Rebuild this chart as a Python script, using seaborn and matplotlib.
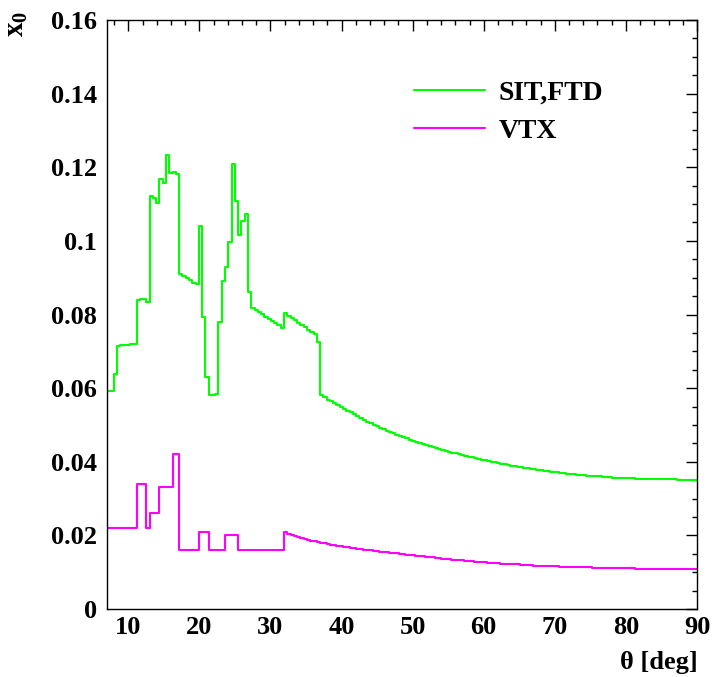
import numpy as np
import pandas as pd
import matplotlib
matplotlib.use("Agg")
import matplotlib.pyplot as plt
from matplotlib.lines import Line2D
from matplotlib.ticker import MultipleLocator, FixedLocator, FixedFormatter
import seaborn as sns

# ---------------- data ----------------
THETA_MIN = 7.0
THETA_MAX = 90.0
N_BINS = 180

series_names = ["SIT,FTD", "VTX"]
series_colors = ["#00ff00", "#ff00ff"]

sit_ftd = [
    0.0593, 0.0593, 0.0638, 0.0715, 0.0716, 0.0717, 0.0718, 0.0719, 0.0720, 0.0840,
    0.0841, 0.0842, 0.0833, 0.1122, 0.1116, 0.1104, 0.1167, 0.1156, 0.1232, 0.1184,
    0.1187, 0.1181, 0.0910, 0.0905, 0.0899, 0.0893, 0.0885, 0.0882, 0.1040, 0.0792,
    0.0631, 0.0581, 0.0581, 0.0584, 0.0779, 0.0891, 0.0928, 0.0998, 0.1208, 0.1108,
    0.1016, 0.1055, 0.1073, 0.0860, 0.0819, 0.0812, 0.0806, 0.0800, 0.0794, 0.0789,
    0.0783, 0.0778, 0.0771, 0.0762, 0.0803, 0.0797, 0.0791, 0.0784, 0.0778, 0.0771,
    0.0765, 0.0759, 0.0753, 0.0747, 0.0726, 0.0580, 0.0575, 0.0569, 0.0564, 0.0559,
    0.0554, 0.0549, 0.0544, 0.0539, 0.0534, 0.0529, 0.0524, 0.0519, 0.0514, 0.0509,
    0.0505, 0.0500, 0.0496, 0.0492, 0.0488, 0.0484, 0.0480, 0.0477, 0.0473, 0.0470,
    0.0467, 0.0464, 0.0460, 0.0457, 0.0454, 0.0451, 0.0448, 0.0445, 0.0442, 0.0439,
    0.0437, 0.0434, 0.0432, 0.0429, 0.0427, 0.0425, 0.0423, 0.0420, 0.0418, 0.0416,
    0.0414, 0.0412, 0.0410, 0.0408, 0.0406, 0.0404, 0.0402, 0.0400, 0.0398, 0.0396,
    0.0394, 0.0393, 0.0391, 0.0389, 0.0388, 0.0386, 0.0385, 0.0383, 0.0382, 0.0380,
    0.0379, 0.0378, 0.0377, 0.0375, 0.0374, 0.0373, 0.0372, 0.0371, 0.0370, 0.0369,
    0.0368, 0.0367, 0.0366, 0.0365, 0.0364, 0.0363, 0.0362, 0.0362, 0.0361, 0.0360,
    0.0360, 0.0359, 0.0358, 0.0358, 0.0357, 0.0357, 0.0356, 0.0356, 0.0355, 0.0355,
    0.0355, 0.0354, 0.0354, 0.0354, 0.0353, 0.0353, 0.0353, 0.0353, 0.0352, 0.0352,
    0.0352, 0.0352, 0.0352, 0.0352, 0.0351, 0.0351, 0.0351, 0.0351, 0.0351, 0.0351,
]

vtx = [
    0.0220, 0.0220, 0.0220, 0.0220, 0.0220, 0.0220, 0.0220, 0.0220, 0.0220, 0.0340,
    0.0340, 0.0340, 0.0220, 0.0262, 0.0262, 0.0262, 0.0331, 0.0331, 0.0331, 0.0331,
    0.0420, 0.0420, 0.0160, 0.0160, 0.0160, 0.0160, 0.0160, 0.0160, 0.0210, 0.0210,
    0.0210, 0.0160, 0.0160, 0.0160, 0.0160, 0.0160, 0.0200, 0.0200, 0.0200, 0.0200,
    0.0160, 0.0160, 0.0160, 0.0160, 0.0160, 0.0160, 0.0160, 0.0160, 0.0160, 0.0160,
    0.0160, 0.0160, 0.0160, 0.0160, 0.0208, 0.0205, 0.0202, 0.0199, 0.0196, 0.0193,
    0.0191, 0.0188, 0.0186, 0.0184, 0.0182, 0.0180, 0.0179, 0.0177, 0.0175, 0.0174,
    0.0172, 0.0171, 0.0169, 0.0168, 0.0166, 0.0165, 0.0164, 0.0163, 0.0161, 0.0160,
    0.0159, 0.0158, 0.0157, 0.0156, 0.0155, 0.0154, 0.0153, 0.0152, 0.0151, 0.0150,
    0.0149, 0.0148, 0.0147, 0.0146, 0.0145, 0.0144, 0.0143, 0.0142, 0.0141, 0.0140,
    0.0139, 0.0138, 0.0137, 0.0136, 0.0135, 0.0134, 0.0134, 0.0133, 0.0132, 0.0131,
    0.0130, 0.0130, 0.0129, 0.0128, 0.0127, 0.0127, 0.0126, 0.0125, 0.0125, 0.0124,
    0.0123, 0.0123, 0.0122, 0.0122, 0.0121, 0.0121, 0.0120, 0.0120, 0.0119, 0.0119,
    0.0118, 0.0118, 0.0118, 0.0117, 0.0117, 0.0116, 0.0116, 0.0116, 0.0115, 0.0115,
    0.0115, 0.0114, 0.0114, 0.0114, 0.0113, 0.0113, 0.0113, 0.0113, 0.0112, 0.0112,
    0.0112, 0.0112, 0.0111, 0.0111, 0.0111, 0.0111, 0.0111, 0.0111, 0.0111, 0.0111,
    0.0111, 0.0110, 0.0110, 0.0110, 0.0110, 0.0110, 0.0110, 0.0110, 0.0110, 0.0110,
    0.0110, 0.0110, 0.0110, 0.0110, 0.0110, 0.0110, 0.0110, 0.0110, 0.0110, 0.0110,
]

x_tick_values = [10, 20, 30, 40, 50, 60, 70, 80, 90]
x_tick_labels = ["10", "20", "30", "40", "50", "60", "70", "80", "90"]
y_tick_values = [0, 0.02, 0.04, 0.06, 0.08, 0.10, 0.12, 0.14, 0.16]
y_tick_labels = ["0", "0.02", "0.04", "0.06", "0.08", "0.1", "0.12", "0.14", "0.16"]
x_label = "θ [deg]"
y_label = r"$\mathbf{x_0}$"

# ---------------- build table ----------------
edges = np.linspace(THETA_MIN, THETA_MAX, N_BINS + 1)
centers = 0.5 * (edges[:-1] + edges[1:])
df = pd.concat([
    pd.DataFrame({"theta": centers, "x0": sit_ftd, "det": series_names[0]}),
    pd.DataFrame({"theta": centers, "x0": vtx, "det": series_names[1]}),
], ignore_index=True)

# ---------------- style ----------------
sns.set_style("white")
plt.rcParams["font.family"] = ["Liberation Serif", "DejaVu Serif"]
plt.rcParams["font.weight"] = "bold"
plt.rcParams["text.color"] = "black"
plt.rcParams["xtick.color"] = "black"
plt.rcParams["ytick.color"] = "black"
plt.rcParams["axes.labelcolor"] = "black"
plt.rcParams["mathtext.fontset"] = "custom"
plt.rcParams["mathtext.rm"] = "Liberation Serif"
plt.rcParams["mathtext.bf"] = "Liberation Serif:bold"
plt.rcParams["mathtext.it"] = "Liberation Serif:italic"

W, H = 713, 677
fig = plt.figure(figsize=(W / 100, H / 100), dpi=100)
L, R, T, B = 107, 697, 20, 609
ax = fig.add_axes([L / W, 1 - B / H, (R - L) / W, (B - T) / H])

palette = dict(zip(series_names, series_colors))
sns.histplot(data=df, x="theta", weights="x0", hue="det", hue_order=series_names,
             bins=[float(e) for e in edges], element="step", fill=False,
             palette=palette, legend=False, linewidth=1.5, ax=ax)

ax.set_xlim(THETA_MIN, THETA_MAX)
ax.set_ylim(0, 0.16)
ax.set_xlabel("")
ax.set_ylabel("")

ax.xaxis.set_major_locator(FixedLocator(x_tick_values))
ax.xaxis.set_major_formatter(FixedFormatter(x_tick_labels))
ax.xaxis.set_minor_locator(MultipleLocator(2))
ax.yaxis.set_major_locator(FixedLocator(y_tick_values))
ax.yaxis.set_major_formatter(FixedFormatter(y_tick_labels))
ax.yaxis.set_minor_locator(MultipleLocator(0.005))

ax.tick_params(which="both", direction="in", top=True, right=True,
               colors="black", labelcolor="black", width=1.0)
ax.tick_params(which="major", length=8)
ax.tick_params(which="minor", length=3.8)
ax.tick_params(axis="x", which="major", labelsize=19, pad=5)
ax.tick_params(axis="y", which="major", labelsize=19, pad=7)
for lab in ax.get_xticklabels() + ax.get_yticklabels():
    lab.set_fontweight("bold")

for s in ax.spines.values():
    s.set_color("black")
    s.set_linewidth(1.0)

fig.text(698 / W, 1 - 669 / H, x_label, ha="right", va="baseline",
         fontsize=19, fontweight="bold", color="black")
fig.text(17 / W, 1 - 11 / H, y_label, ha="center", va="top",
         rotation=90, fontsize=21, color="black")

handles = [Line2D([0], [0], color=c, lw=1.5) for c in series_colors]
ax.legend(handles, series_names, loc="upper left",
          bbox_to_anchor=(414 / W, 1 - 80 / H), bbox_transform=fig.transFigure,
          frameon=False, borderpad=0, borderaxespad=0, handlelength=2.55,
          handletextpad=0.5, labelspacing=0.46,
          labelcolor="black",
          prop={"family": "Liberation Serif", "weight": "bold", "size": 20})

fig.savefig("out.png", dpi=100)
